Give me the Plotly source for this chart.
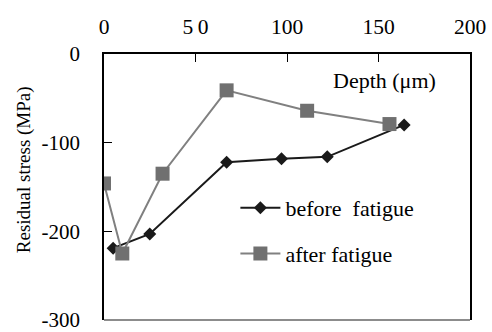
import plotly.graph_objects as go

depth_before = [5, 25, 67, 97, 122, 164]
stress_before = [-219, -203, -122, -118, -116, -80]
depth_after = [0, 10, 32, 67, 111, 156]
stress_after = [-146, -225, -135, -41, -64, -79]

x_ticks = [0, 50, 100, 150, 200]
x_tick_text = ["0", "5\u20090", "100", "150", "200"]
y_ticks = [0, -100, -200, -300]
y_tick_text = ["0", "-100", "-200", "-300"]

font_family = "Liberation Serif"

fig = go.Figure()
fig.add_trace(go.Scatter(
    x=depth_before, y=stress_before, mode="lines+markers",
    name="before\u00a0 fatigue", legendgroup="a",
    line=dict(color="#1a1a1a", width=2),
    marker=dict(symbol="diamond", size=10, color="#1a1a1a"),
))
fig.add_trace(go.Scatter(
    x=depth_after, y=stress_after, mode="lines+markers",
    name="after fatigue", legendgroup="b",
    line=dict(color="#808080", width=2),
    marker=dict(symbol="square", size=14, color="#707070"),
))

fig.update_layout(
    width=492, height=332,
    margin=dict(l=104, r=22, t=54, b=12),
    paper_bgcolor="white", plot_bgcolor="white",
    font=dict(family=font_family, size=22, color="black"),
    showlegend=True,
    legend=dict(x=0.359, y=0.5, xanchor="left", yanchor="top",
                bgcolor="rgba(0,0,0,0)", font=dict(family=font_family, size=22),
                traceorder="grouped", tracegroupgap=14,
                itemwidth=40),
    xaxis=dict(range=[0, 200], side="top", tickvals=x_ticks, ticktext=x_tick_text,
               ticks="inside", ticklen=8, tickwidth=1, tickcolor="black",
               showline=True, linecolor="black", linewidth=1.5, mirror=False,
               showgrid=False, zeroline=False, ticklabelstandoff=10, automargin=False,
               tickfont=dict(family=font_family, size=21.5)),
    yaxis=dict(range=[-300, 0], tickvals=y_ticks, ticktext=y_tick_text,
               ticks="inside", ticklen=8, tickwidth=1, tickcolor="black",
               showline=True, linecolor="black", linewidth=1.5, mirror=True,
               showgrid=False, zeroline=False, ticklabelstandoff=18, automargin=False,
               ticklabeloverflow="allow",
               tickfont=dict(family=font_family, size=21)),
    shapes=[dict(type="line", xref="paper", yref="paper", x0=0, x1=1, y0=0, y1=0,
                 line=dict(color="#666666", width=1.5))],
    annotations=[
        dict(text="Depth (\u03bcm)", xref="paper", yref="paper",
             x=0.912, y=0.9, xanchor="right", yanchor="middle",
             showarrow=False, font=dict(family=font_family, size=22)),
        dict(text="Residual stress (MPa)", xref="paper", yref="paper",
             x=-0.2186, y=0.567, xanchor="center", yanchor="middle", textangle=-90,
             showarrow=False, font=dict(family=font_family, size=19)),
    ],
)

fig.write_html("out.html")
